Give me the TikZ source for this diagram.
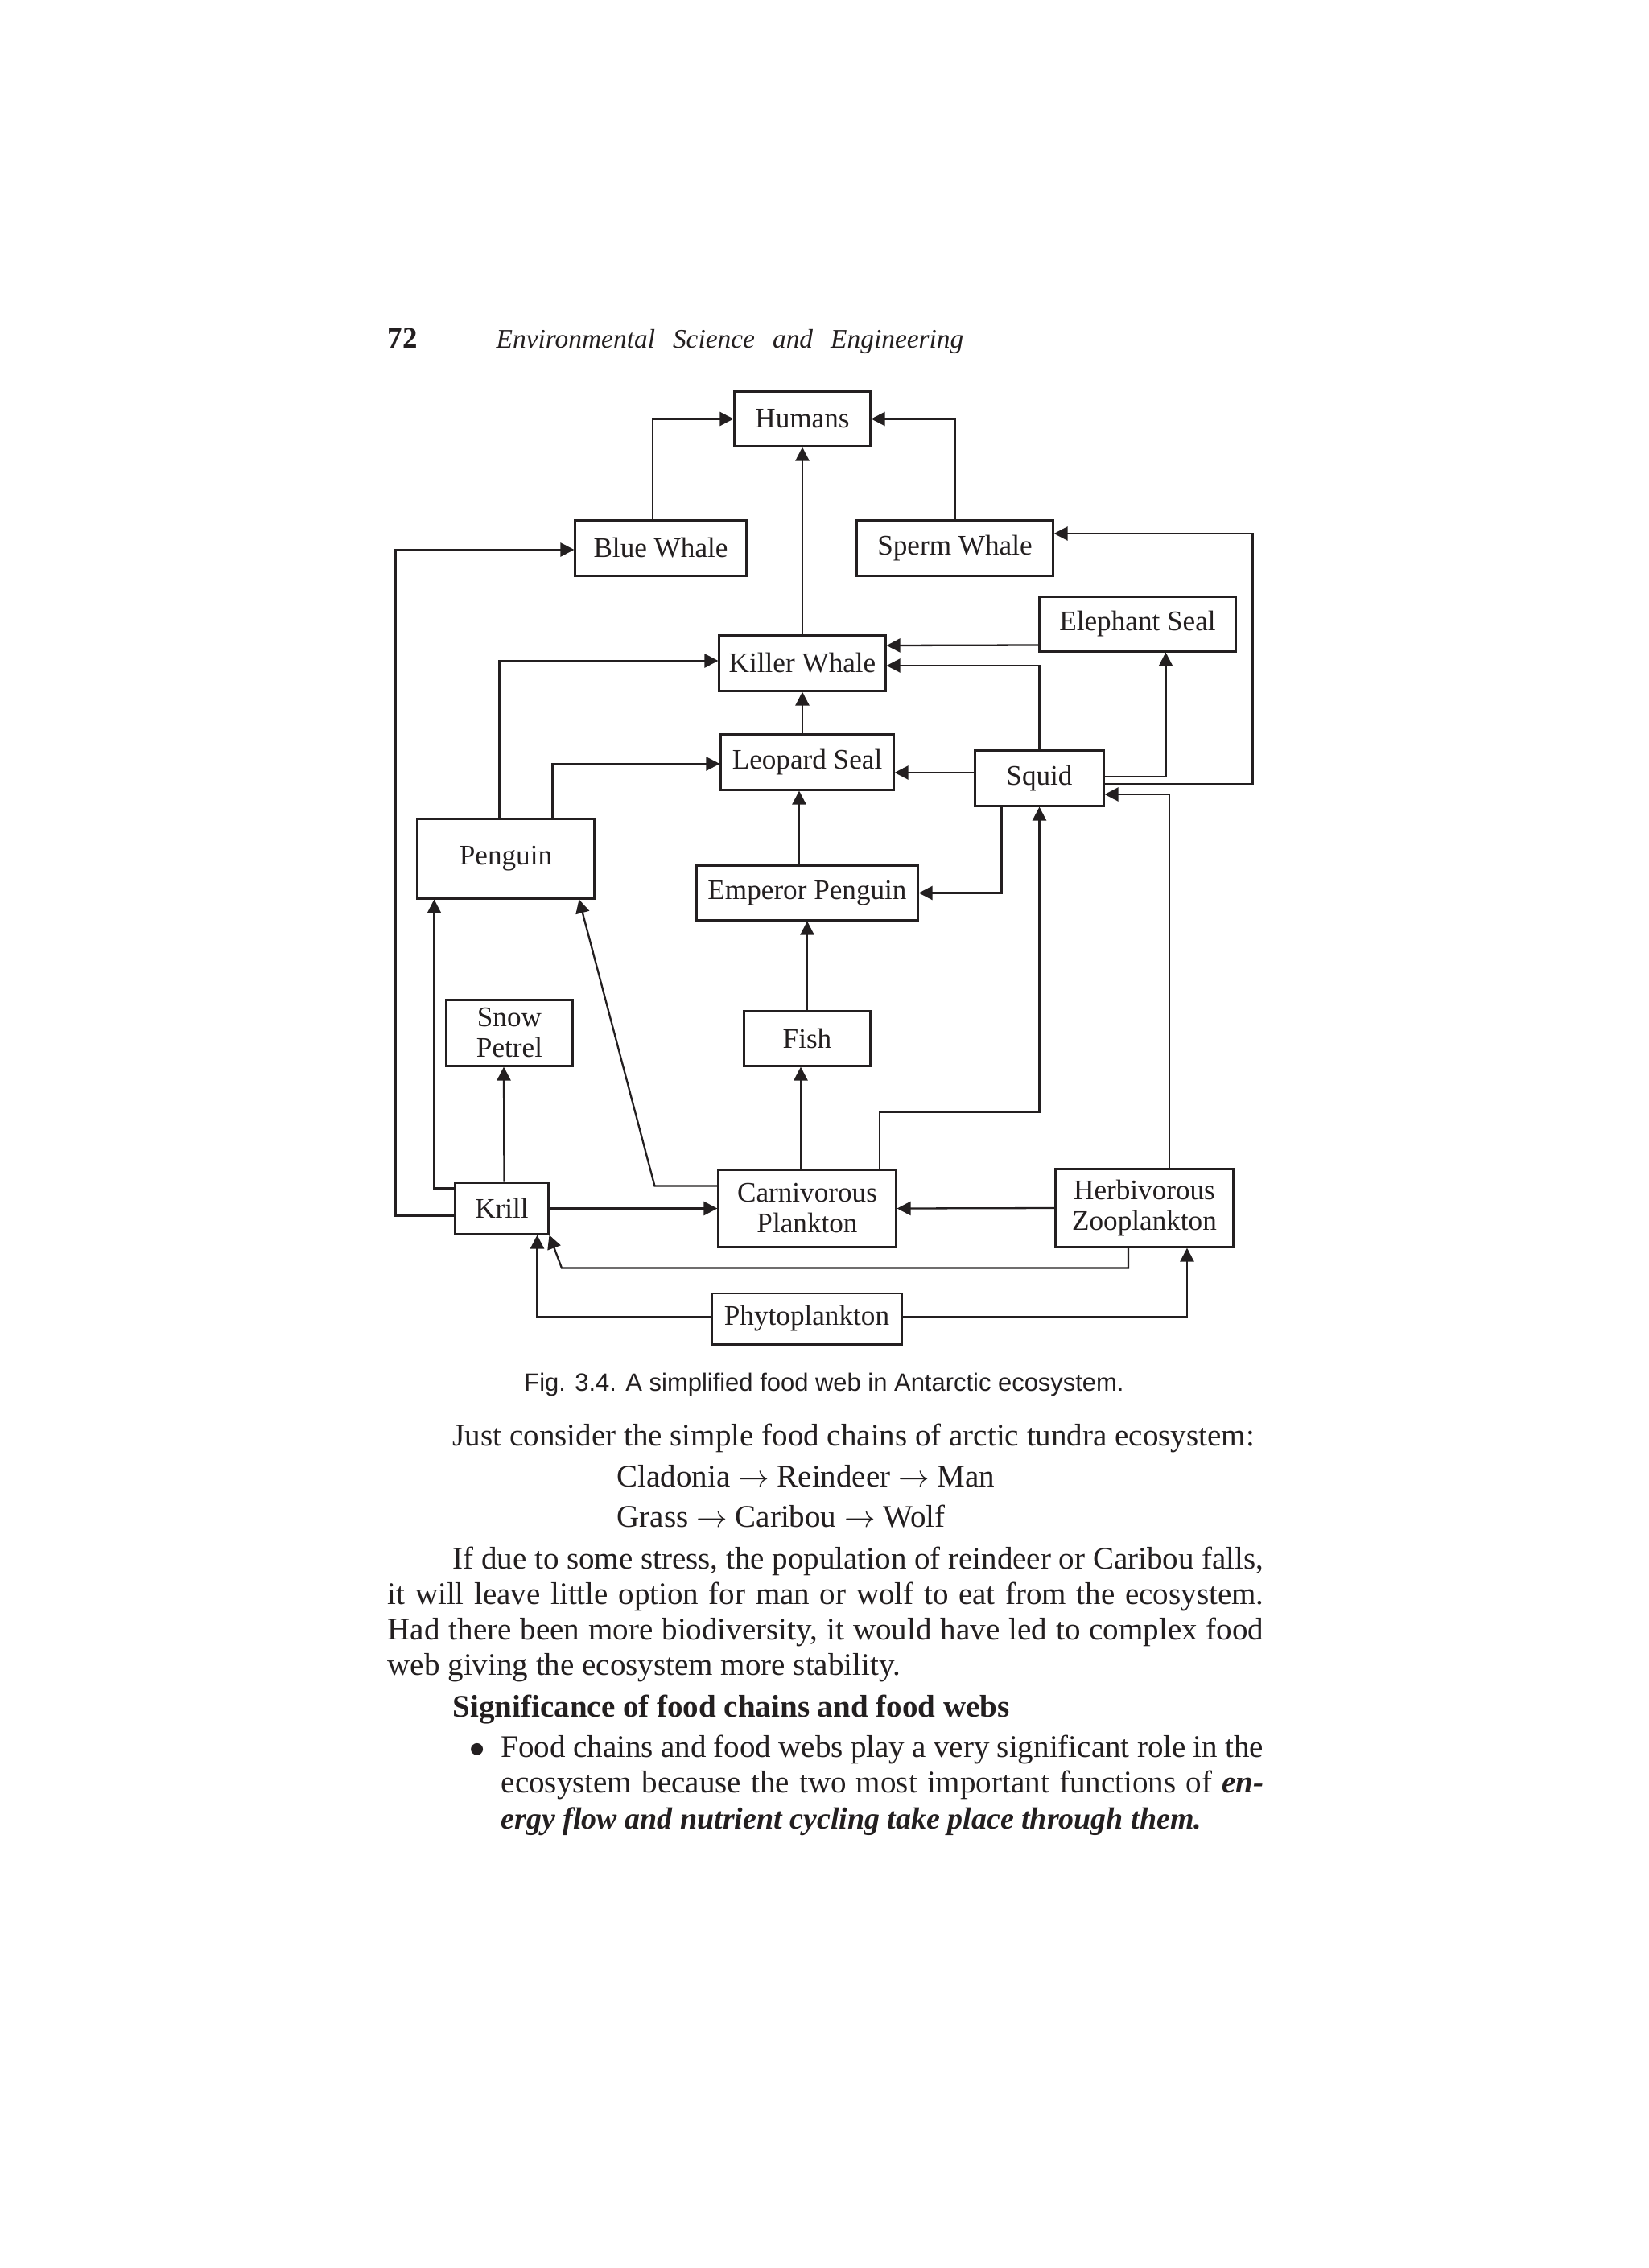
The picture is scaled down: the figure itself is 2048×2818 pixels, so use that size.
\documentclass[tikz,border=0pt]{standalone}
\usepackage{fontspec}
\setmainfont{Liberation Serif}
\setsansfont{Liberation Sans}
\usepackage{tikz}
\usetikzlibrary{arrows.meta,calc}
\definecolor{ink}{HTML}{231F20}

\begin{document}
\begin{tikzpicture}[
      x=0.01cm, y=-0.01cm,
      >={Triangle[length=0.17cm, width=0.17cm]},
      species/.style={
        rectangle,
        draw=ink,
        line width=0.85pt,
        inner sep=0pt,
        align=center,
        minimum height=0.68cm,
        text=ink,
        font=\fontsize{10}{10.8}\selectfont,
      },
      feeds/.style={->, draw=ink, line width=0.65pt},
      bodyline/.style={anchor=base west, inner sep=0pt, text=ink,
        font=\fontsize{11.1}{13}\selectfont},
      ]
      \fill[white] (0,0) rectangle (2048,2818);
      % running head
      \node[bodyline, font=\bfseries\fontsize{10.5}{12}\selectfont] (pageno) at (481,432) {72};
      \node[bodyline, font=\itshape\fontsize{9.5}{11}\selectfont] (runhead) at (616,432)
        {\spaceskip=0.22cm Environmental Science and Engineering};
      % food web
      \node[species, minimum width=1.68cm, minimum height=0.67cm] (hu) at (997,520.5) {Humans};
      \node[species, minimum width=2.12cm] (bw) at (821,681) {Blue Whale};
      \node[species, minimum width=2.43cm] (sw) at (1186.5,681) {Sperm Whale};
      \node[species, minimum width=2.43cm, minimum height=0.67cm] (es) at (1413.5,775.5) {Elephant Seal};
      \node[species, minimum width=2.06cm] (kw) at (997,824) {Killer Whale};
      \node[species, minimum width=2.14cm] (ls) at (1003,947) {Leopard Seal};
      \node[species, minimum width=1.59cm] (sq) at (1291.5,967) {Squid};
      \node[species, minimum width=2.19cm, minimum height=0.98cm] (pg) at (628.5,1067) {Penguin};
      \node[species, minimum width=2.74cm, minimum height=0.67cm] (ep) at (1003,1109.5) {Emperor Penguin};
      \node[species, minimum width=1.56cm, minimum height=0.81cm] (sp) at (633,1283.5) {Snow\\Petrel};
      \node[species, minimum width=1.56cm, minimum height=0.67cm] (fi) at (1003,1290.5) {Fish};
      \node[species, minimum width=1.15cm, minimum height=0.63cm] (kr) at (623.5,1501.5) {Krill};
      \node[species, minimum width=2.20cm, minimum height=0.95cm] (cp) at (1003,1501.5) {Carnivorous\\Plankton};
      \node[species, minimum width=2.20cm, minimum height=0.96cm] (hz) at (1422,1501) {Herbivorous\\Zooplankton};
      \node[species, minimum width=2.35cm, minimum height=0.63cm] (ph) at (1002.5,1638.5) {Phytoplankton};
      % who eats whom
      \draw[feeds] ($(bw.north)+(-10,0)$) |- (hu.west);
      \draw[feeds] (sw.north) |- (hu.east);
      \draw[feeds] (kw.north) -- (hu.south);
      \draw[feeds] ($(kr.west)+(0,9)$) -- ++(-73,0) |- ($(bw.west)+(0,2)$);
      \draw[feeds] ($(sq.east)+(0,7)$) -- ++(184,0) |- ($(sw.east)+(0,-18)$);
      \draw[feeds] ($(sq.east)+(0,-2)$) -| ($(es.south)+(35,0)$);
      \draw[feeds] ($(hz.north)+(31,0)$) |- ($(sq.east)+(0,20)$);
      \draw[feeds] ($(es.west)+(0,26)$) -- ($(kw.east)+(0,-22)$);
      \draw[feeds] (sq.north) |- ($(kw.east)+(0,3)$);
      \draw[feeds] ($(sq.west)+(0,-7)$) -- ($(ls.east)+(0,13)$);
      \draw[feeds] ($(sq.south)+(-47,0)$) |- (ep.east);
      \draw[feeds] (kw.south |- ls.north) -- (kw.south);
      \draw[feeds] ($(pg.north)+(-8,0)$) |- ($(kw.west)+(0,-3)$);
      \draw[feeds] ($(pg.north)+(58,0)$) |- ($(ls.west)+(0,2)$);
      \draw[feeds] ($(ep.north)+(-10,0)$) -- ($(ls.south)+(-10,0)$);
      \draw[feeds] (fi.north) -- (ep.south);
      \draw[feeds] ($(cp.north)+(-8,0)$) -- ($(fi.south)+(-8,0)$);
      \draw[feeds] ($(cp.north)+(90,0)$) -- ++(0,-71) -| (sq.south);
      \draw[feeds] ($(cp.west)+(0,-28)$) -- ++(-78,0) -- ($(pg.south)+(91,0)$);
      \draw[feeds] ($(kr.west)+(0,-25)$) -| ($(pg.south)+(-89,0)$);
      \draw[feeds] ($(kr.north)+(3,0)$) -- ($(sp.south)+(-7,0)$);
      \draw[feeds] (kr.east) -- (cp.west);
      \draw[feeds] (hz.west) -- (cp.east);
      \draw[feeds] ($(hz.south)+(-20,0)$) -- ++(0,25) -- ++(-704,0) -- (kr.south east);
      \draw[feeds] ($(ph.west)+(0,-2)$) -| ($(kr.south)+(44,0)$);
      \draw[feeds] ($(ph.east)+(0,-2)$) -| ($(hz.south)+(53,0)$);
      \node[anchor=base, inner sep=0pt, text=ink, font=\sffamily\fontsize{8.8}{10}\selectfont] (caption)
        at (1024,1728) {Fig. 3.4. A simplified food web in Antarctic ecosystem.};
      % text below the figure
      \node[bodyline] (l1) at (562,1796) {Just consider the simple food chains of arctic tundra ecosystem:};
      \node[bodyline] (l2) at (766,1847) {Cladonia $\rightarrow$ Reindeer $\rightarrow$ Man};
      \node[bodyline] (l3) at (766,1897) {Grass $\rightarrow$ Caribou $\rightarrow$ Wolf};
      \node[bodyline] (l4) at (562,1949)
        {\makebox[10.07cm][s]{If due to some stress, the population of reindeer or Caribou falls,}};
      \node[bodyline] (l5) at (481,1993)
        {\makebox[10.88cm][s]{it will leave little option for man or wolf to eat from the ecosystem.}};
      \node[bodyline] (l6) at (481,2037)
        {\makebox[10.88cm][s]{Had there been more biodiversity, it would have led to complex food}};
      \node[bodyline] (l7) at (481,2081) {web giving the ecosystem more stability.};
      \node[bodyline, font=\bfseries\fontsize{11.1}{13}\selectfont] (l8) at (562,2133)
        {Significance of food chains and food webs};
      \node[bodyline] (dot) at (583,2183) {$\bullet$};
      \node[bodyline] (l9) at (622,2183)
        {\makebox[9.47cm][s]{Food chains and food webs play a very significant role in the}};
      \node[bodyline] (l10) at (622,2227)
        {\makebox[9.47cm][s]{ecosystem because the two most important functions of \textbf{\textit{en-}}}};
      \node[bodyline, font=\bfseries\itshape\fontsize{10.8}{13}\selectfont] (l11) at (622,2272)
        {ergy flow and nutrient cycling take place through them.};
\end{tikzpicture}
\end{document}
